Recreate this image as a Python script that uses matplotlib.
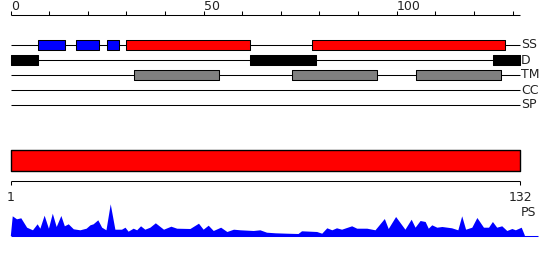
import matplotlib.pyplot as plt

# Sequence length and ruler ticks.
seq_len = 132
top_ticks = list(range(0, 131, 10))
top_tick_labels = ["0", "50", "100"]
top_label_pos = [0, 50, 100]

# Feature tracks: (start, end) in sequence positions.
ss_helix = [(7, 14), (17, 23), (25, 28)]
ss_strand = [(30, 62), (78, 128)]
disorder = [(0, 7), (62, 79), (125, 132)]
transmem = [(32, 54), (73, 95), (105, 127)]
track_names = ["SS", "D", "TM", "CC", "SP"]

# Domain bar and bottom ruler.
domain = [(0, 132)]
bottom_labels = ["1", "132"]
bottom_label_pos = [1, 132]

# PS profile (residue, score).
ps_pos = [0.9, 1.4, 2.5, 3.6, 5.1, 6.6, 7.8, 8.5, 9.6, 10.7, 11.7, 12.7, 13.9,
          14.8, 15.8, 17.1, 18.8, 20.4, 21.4, 22.2, 23.4, 24.4, 25.5, 26.6,
          27.8, 29.5, 30.4, 31.2, 32.5, 33.4, 34.4, 35.5, 36.8, 38.2, 40.3,
          42.2, 43.7, 47.1, 49.3, 50.5, 51.8, 53.1, 55.0, 56.6, 58.3, 60.0,
          63.4, 65.1, 66.8, 69.0, 72.0, 74.9, 75.8, 79.7, 81.0, 82.3, 83.6,
          84.8, 86.1, 88.7, 90.0, 92.6, 94.7, 97.1, 98.1, 100.0, 102.4, 104.0,
          105.0, 106.3, 107.6, 108.4, 109.3, 110.6, 111.9, 114.4, 116.0, 117.0,
          118.0, 119.6, 120.9, 122.6, 123.9, 124.9, 126.0, 127.3, 128.6, 129.9,
          130.8, 132.3, 133.1]
ps_score = [0.0, 19.7, 16.7, 17.7, 8.3, 5.7, 11.7, 7.3, 20.3, 7.3, 22.3, 9.0,
            20.0, 9.7, 11.7, 6.7, 5.7, 7.3, 10.7, 11.7, 15.7, 8.3, 5.7, 31.7,
            6.3, 6.3, 8.3, 4.3, 7.3, 5.7, 9.7, 6.3, 8.3, 12.7, 6.3, 9.3, 7.3,
            7.0, 12.3, 6.3, 10.3, 5.0, 8.3, 4.0, 6.3, 5.7, 5.0, 5.7, 3.3, 2.7,
            2.3, 2.0, 4.7, 4.0, 2.3, 7.7, 5.7, 7.7, 6.3, 9.7, 7.3, 7.3, 5.7,
            17.0, 7.0, 19.0, 6.3, 16.3, 8.3, 15.0, 14.0, 7.3, 10.7, 8.3, 9.0,
            7.7, 5.7, 19.7, 6.3, 8.3, 18.0, 8.3, 8.3, 14.0, 8.3, 9.7, 5.0, 7.0,
            5.7, 8.3, 0.7]

# Layout (figure pixels, y downward).
W, H = 550, 260
x0_px = 10.7
top_scale = 3.86      # px per unit on top ruler
bot_scale = 3.888     # px per residue on bottom ruler
ruler_y = 15
row_y = [45, 60, 75, 90, 105]
box_h = 10.7
ps_base = 235.5
fs = 9

fig = plt.figure(figsize=(W / 100, H / 100), dpi=100)

# Top part: ruler + feature tracks.
ax = fig.add_axes([0, 0, 1, 1])
ax.set_xlim(-x0_px / top_scale, (W - x0_px) / top_scale)
ax.set_ylim(H, 0)
ax.axis("off")

lw = 0.75
ax.hlines(ruler_y, 0, seq_len, color="black", lw=lw)
ax.vlines(top_ticks, ruler_y - 4, ruler_y, color="black", lw=lw)
for pos, lab in zip(top_label_pos, top_tick_labels):
    ax.text(pos, 10, lab, ha="left", va="baseline", fontsize=fs, color="#222222")

ax.hlines(row_y, 0, seq_len, color="black", lw=lw, zorder=1)
for y, name in zip(row_y, track_names):
    ax.text(seq_len + 0.15, y, name, ha="left", va="center", fontsize=fs, color="#222222")

def draw_track(segs, y, color):
    ax.broken_barh([(s, e - s) for s, e in segs], (y - box_h / 2, box_h),
                   facecolors=color, edgecolors="black", linewidth=lw, zorder=2)

draw_track(ss_helix, row_y[0], "#0000FF")
draw_track(ss_strand, row_y[0], "#FF0000")
draw_track(disorder, row_y[1], "black")
draw_track(transmem, row_y[2], "#808080")

# Domain bar.
ax.broken_barh([(s, e - s) for s, e in domain], (150, 20.7),
               facecolors="#FF0000", edgecolors="black", linewidth=1.0)

# Bottom part: residue ruler + PS profile.
bx = fig.add_axes([0, 0, 1, 1])
bx.set_xlim(1 - x0_px / bot_scale, 1 + (W - x0_px) / bot_scale)
bx.set_ylim(H, 0)
bx.axis("off")
bx.patch.set_alpha(0)

bx.hlines(180.7, 1, seq_len, color="black", lw=lw)
bx.vlines(bottom_label_pos, 180.7, 185, color="black", lw=lw)
for pos, lab in zip(bottom_label_pos, bottom_labels):
    bx.text(pos, 200.7, lab, ha="center", va="baseline", fontsize=fs, color="#222222")
bx.text(seq_len + 0.3, 215.5, "PS", ha="left", va="baseline", fontsize=fs, color="#222222")

bx.fill_between(ps_pos, ps_base, [ps_base - v for v in ps_score],
                color="#0000FF", lw=0)
bx.hlines(ps_base, 1, 136.6, color="#0000FF", lw=lw)

plt.savefig("out.png", dpi=100)
